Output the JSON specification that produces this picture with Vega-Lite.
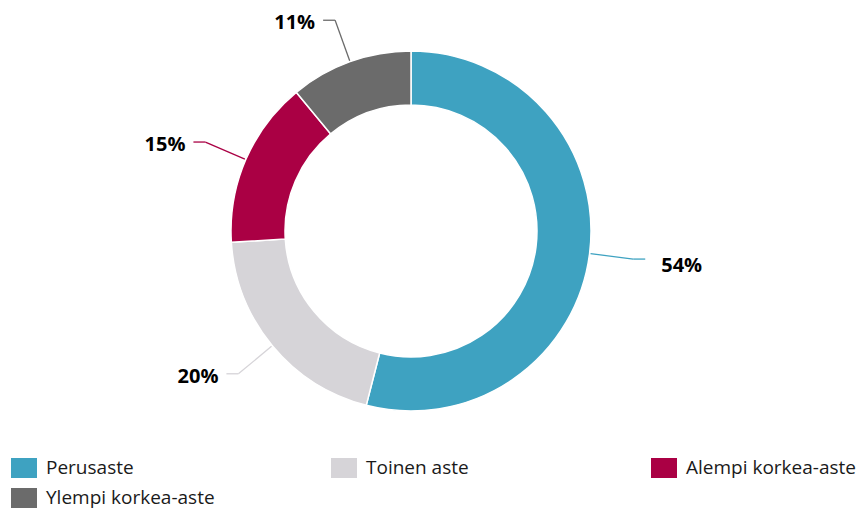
{
  "$schema": "https://vega.github.io/schema/vega-lite/v6.json",
  "width": 822,
  "height": 462,
  "padding": {"left": 0, "top": 0, "right": 0, "bottom": 4},
  "background": "white",
  "config": {"view": {"stroke": null}, "font": "Open Sans"},
  "data": {"values": [
    {"k": "Perusaste", "v": 54},
    {"k": "Toinen aste", "v": 20},
    {"k": "Alempi korkea-aste", "v": 15},
    {"k": "Ylempi korkea-aste", "v": 11}
  ]},
  "transform": [
    {"window": [{"op": "row_number", "as": "i"}]},
    {"window": [{"op": "sum", "field": "v", "as": "cum"}], "sort": [{"field": "i"}], "frame": [null, 0]},
    {"joinaggregate": [{"op": "sum", "field": "v", "as": "tot"}]},
    {"calculate": "2*PI*(datum.cum - datum.v/2)/datum.tot", "as": "mid"},
    {"calculate": "sin(datum.mid)", "as": "sx"},
    {"calculate": "cos(datum.mid)", "as": "cy"},
    {"calculate": "181*datum.sx", "as": "ax"},
    {"calculate": "181*datum.cy", "as": "ay"},
    {"calculate": "224*datum.sx", "as": "bx"},
    {"calculate": "224*datum.cy", "as": "by"},
    {"calculate": "datum.bx + (datum.sx < 0 ? -12 : 12)", "as": "cx"},
    {"calculate": "datum.v + '%'", "as": "lbl"}
  ],
  "layer": [
    {
      "mark": {"type": "arc", "outerRadius": 180, "innerRadius": 126, "stroke": "white", "strokeWidth": 1.5},
      "encoding": {
        "theta": {"field": "v", "type": "quantitative", "stack": true},
        "order": {"field": "i", "type": "quantitative"},
        "color": {
          "field": "k", "type": "nominal",
          "scale": {"domain": ["Perusaste", "Toinen aste", "Alempi korkea-aste", "Ylempi korkea-aste"],
                    "range": ["#3ea2c1", "#d6d4d8", "#aa0044", "#6b6b6b"]},
          "legend": {
            "orient": "none", "legendX": 14, "legendY": 458,
            "direction": "horizontal", "columns": 3, "title": null,
            "symbolType": "M-1.3,-1H1.3V1H-1.3Z", "symbolSize": 400, "symbolStrokeWidth": 0,
            "labelFont": "Open Sans", "labelFontSize": 19, "labelColor": "#1a1a1a",
            "labelOffset": 12, "columnPadding": 115, "rowPadding": 10,
            "gridAlign": "all", "padding": 0, "labelLimit": 400
          }
        }
      }
    },
    {
      "mark": {"type": "rule", "strokeWidth": 1.3},
      "encoding": {
        "x": {"field": "ax", "type": "quantitative", "scale": {"domain": [-411, 411], "nice": false, "zero": false}, "axis": null},
        "y": {"field": "ay", "type": "quantitative", "scale": {"domain": [-231, 231], "nice": false, "zero": false}, "axis": null},
        "x2": {"field": "bx"},
        "y2": {"field": "by"},
        "stroke": {"field": "k", "type": "nominal",
          "scale": {"domain": ["Perusaste", "Toinen aste", "Alempi korkea-aste", "Ylempi korkea-aste"],
                    "range": ["#3ea2c1", "#d6d4d8", "#aa0044", "#6b6b6b"]}, "legend": null}
      }
    },
    {
      "mark": {"type": "rule", "strokeWidth": 1.3},
      "encoding": {
        "x": {"field": "bx", "type": "quantitative"},
        "y": {"field": "by", "type": "quantitative"},
        "x2": {"field": "cx"},
        "stroke": {"field": "k", "type": "nominal", "legend": null}
      }
    },
    {
      "transform": [{"filter": "datum.sx < 0"}],
      "mark": {"type": "text", "align": "right", "baseline": "middle", "dx": -8, "dy": 3, "fontSize": 20, "fontWeight": "bold", "font": "Open Sans", "color": "#000000"},
      "encoding": {
        "x": {"field": "cx", "type": "quantitative"},
        "y": {"field": "by", "type": "quantitative"},
        "text": {"field": "lbl"}
      }
    },
    {
      "transform": [{"filter": "datum.sx >= 0"}],
      "mark": {"type": "text", "align": "left", "baseline": "middle", "dx": 16, "dy": 7, "fontSize": 20, "fontWeight": "bold", "font": "Open Sans", "color": "#000000"},
      "encoding": {
        "x": {"field": "cx", "type": "quantitative"},
        "y": {"field": "by", "type": "quantitative"},
        "text": {"field": "lbl"}
      }
    }
  ]
}
